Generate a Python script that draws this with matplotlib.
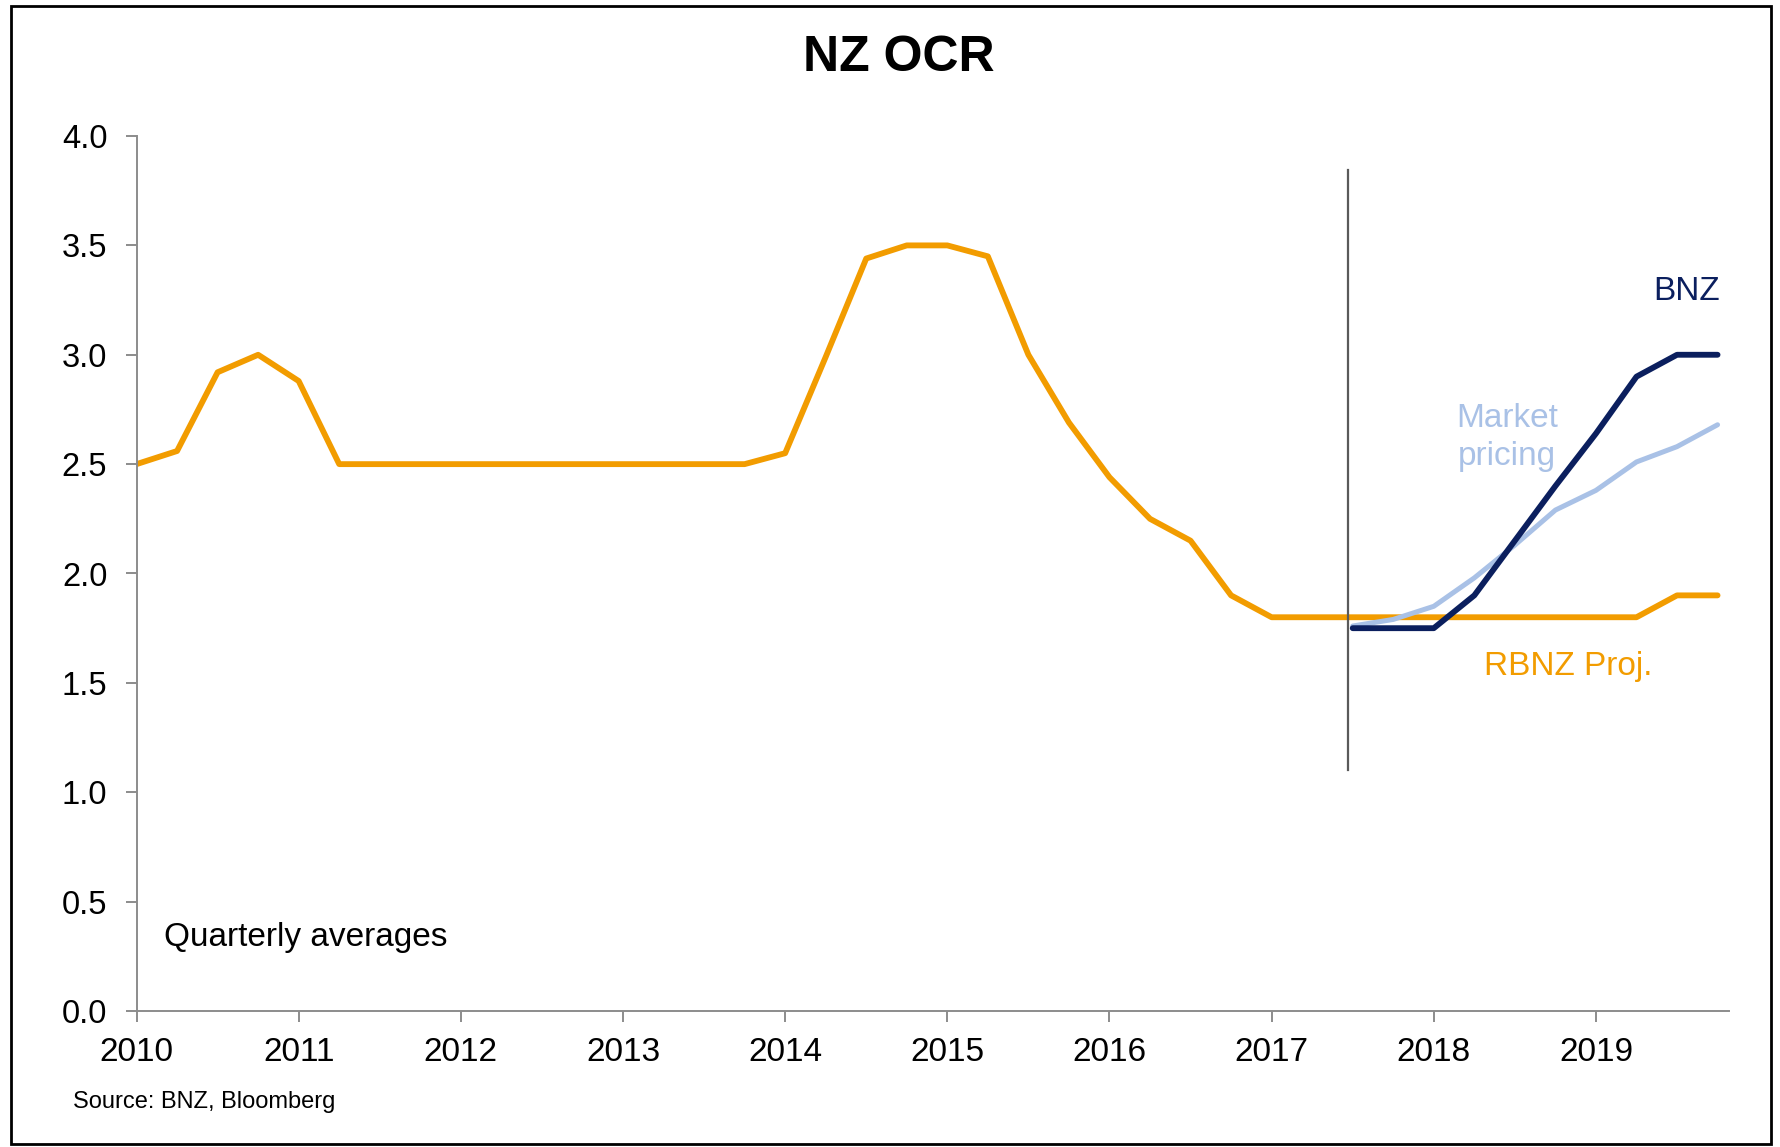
import numpy as np
import matplotlib
matplotlib.use("Agg")
import matplotlib.pyplot as plt
from matplotlib.patches import Rectangle

plt.rcParams['font.family'] = ['Liberation Sans', 'DejaVu Sans']

# quarterly averages, 2010Q1 .. 2019Q4
ocr = [2.50, 2.56, 2.92, 3.00,
       2.88, 2.50, 2.50, 2.50,
       2.50, 2.50, 2.50, 2.50,
       2.50, 2.50, 2.50, 2.50,
       2.55, 2.99, 3.44, 3.50,
       3.50, 3.45, 3.00, 2.69,
       2.44, 2.25, 2.15, 1.90,
       1.80, 1.80, 1.80, 1.80,
       1.80, 1.80, 1.80, 1.80,
       1.80, 1.80, 1.90, 1.90]
# forecasts from 2017Q3 .. 2019Q4
bnz = [1.75, 1.75, 1.75, 1.90, 2.15, 2.40, 2.64, 2.90, 3.00, 3.00]
market = [1.76, 1.79, 1.85, 1.98, 2.13, 2.29, 2.38, 2.51, 2.58, 2.68]
years = list(range(2010, 2020))
yticks = [0.0, 0.5, 1.0, 1.5, 2.0, 2.5, 3.0, 3.5, 4.0]

orange = "#F29C00"
navy = "#0B1F5E"
light = "#A9C1E6"
grey = "#8C8C8C"

t_ocr = 2010 + np.arange(len(ocr)) / 4
t_fc = 2017.5 + np.arange(len(bnz)) / 4

fig = plt.figure(figsize=(17.8, 11.47), dpi=100)
ax = fig.add_axes([0.0767, 0.1186, 0.8946, 0.7628])

ax.plot(t_ocr, ocr, color=orange, lw=4.2, solid_capstyle='round')
ax.plot(t_fc, market, color=light, lw=3.6, solid_capstyle='round')
ax.plot(t_fc, bnz, color=navy, lw=4.2, solid_capstyle='round')
ax.plot([2017.47, 2017.47], [1.10, 3.845], color="#5A5A5A", lw=1.6)

ax.set_xlim(2010, 2019.82)
ax.set_ylim(0, 4)
ax.set_xticks(years)
ax.set_xticklabels([str(y) for y in years], fontsize=24)
ax.set_yticks(yticks)
ax.set_yticklabels([f"{v:.1f}" for v in yticks], fontsize=23.5)

for s in ['top', 'right']:
    ax.spines[s].set_visible(False)
for s in ['left', 'bottom']:
    ax.spines[s].set_color(grey)
    ax.spines[s].set_linewidth(1.4)
ax.tick_params(axis='y', length=8, width=1.4, color=grey, pad=13)
ax.tick_params(axis='x', length=7.7, width=1.4, color=grey, pad=11)

ax.text(2019.56, 3.25, "BNZ", color=navy, fontsize=24, ha='center', va='baseline')
ax.text(2018.45, 2.62, "Market\npricing", color=light, fontsize=24,
        ha='center', va='center', linespacing=1.3)
ax.text(2018.83, 1.536, "RBNZ Proj.", color=orange, fontsize=24, ha='center', va='baseline')
ax.text(2010.17, 0.297, "Quarterly averages", color='black', fontsize=24, va='baseline')

fig.text(0.505, 0.9377, "NZ OCR", fontsize=36, fontweight='bold', ha='center', va='baseline')
fig.text(0.041, 0.034, "Source: BNZ, Bloomberg", fontsize=17, va='baseline')

fig.add_artist(Rectangle((11 / 1780, 1 - 1144 / 1147), 1760 / 1780, 1138 / 1147,
                         transform=fig.transFigure, fill=False, edgecolor='black', lw=2))

fig.savefig("out.png", dpi=100)
